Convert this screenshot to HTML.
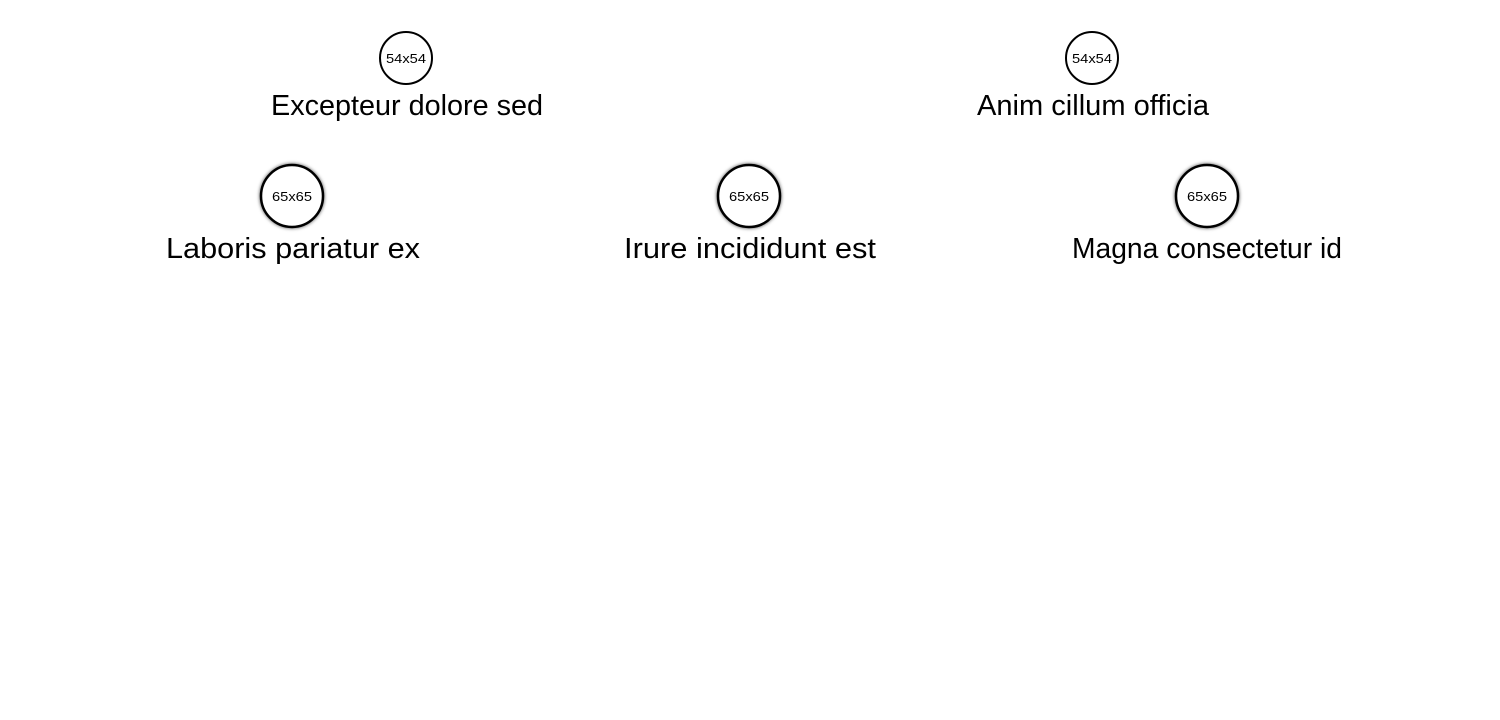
<!DOCTYPE html>
<html><head><meta charset="utf-8"><style>
html,body{margin:0;padding:0;background:#fff;}
svg{display:block}
text{font-family:"Liberation Sans",sans-serif;fill:#000}
</style></head><body>
<svg width="1500" height="720" viewBox="0 0 1500 720" xmlns="http://www.w3.org/2000/svg">
<defs>
<filter id="sh" x="-30%" y="-30%" width="160%" height="160%">
<feDropShadow dx="0" dy="0" stdDeviation="1.8" flood-color="#000" flood-opacity="0.7"/>
</filter>
</defs>
<g stroke="#000" stroke-width="2" fill="#fff">
<circle cx="406" cy="58" r="26"/>
<circle cx="1092" cy="58" r="26"/>
<circle cx="292" cy="196" r="31" stroke-width="2.5" filter="url(#sh)"/>
<circle cx="749" cy="196" r="31" stroke-width="2.5" filter="url(#sh)"/>
<circle cx="1207" cy="196" r="31" stroke-width="2.5" filter="url(#sh)"/>
</g>
<g font-size="13" text-anchor="middle">
<text x="406" y="63" textLength="40" lengthAdjust="spacingAndGlyphs">54x54</text>
<text x="1092" y="63" textLength="40" lengthAdjust="spacingAndGlyphs">54x54</text>
<text x="292" y="201" textLength="40" lengthAdjust="spacingAndGlyphs">65x65</text>
<text x="749" y="201" textLength="40" lengthAdjust="spacingAndGlyphs">65x65</text>
<text x="1207" y="201" textLength="40" lengthAdjust="spacingAndGlyphs">65x65</text>
</g>
<g font-size="29">
<text x="271" y="115" textLength="272" lengthAdjust="spacingAndGlyphs">Excepteur dolore sed</text>
<text x="977" y="115" textLength="232" lengthAdjust="spacingAndGlyphs">Anim cillum officia</text>
<text x="166" y="258" textLength="254" lengthAdjust="spacingAndGlyphs">Laboris pariatur ex</text>
<text x="624" y="258" textLength="252" lengthAdjust="spacingAndGlyphs">Irure incididunt est</text>
<text x="1072" y="258" textLength="270" lengthAdjust="spacingAndGlyphs">Magna consectetur id</text>
</g>
</svg>
</body></html>
